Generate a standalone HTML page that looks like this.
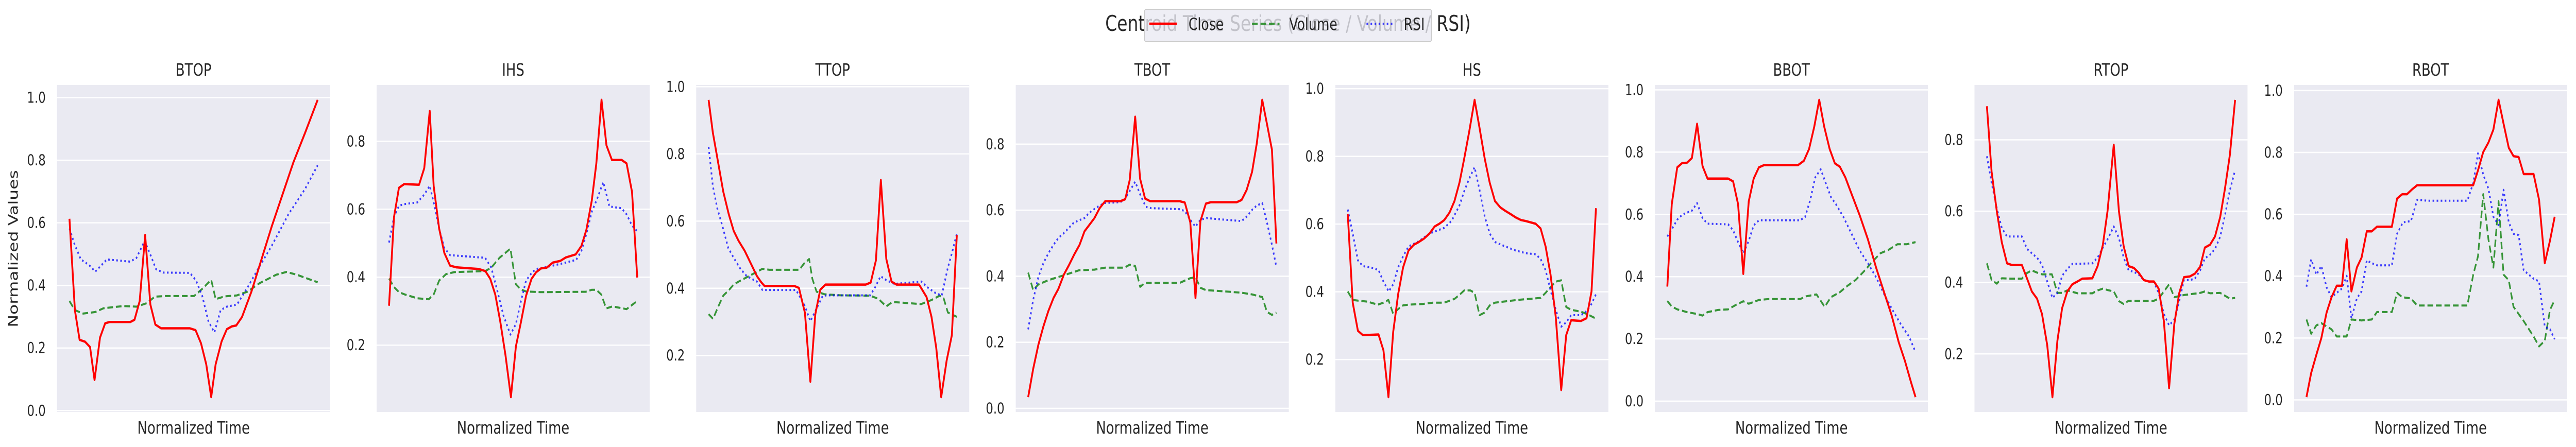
<!DOCTYPE html>
<html><head><meta charset="utf-8">
<style>
html,body{margin:0;padding:0;background:#fff;overflow:hidden;width:100%;height:100%;}
svg{display:block;width:100vw;height:100vh;font-family:"DejaVu Sans","Liberation Sans",sans-serif;}
</style></head>
<body>
<svg id="fig" viewBox="0 0 6368 868" preserveAspectRatio="none" xmlns="http://www.w3.org/2000/svg"></svg>
<script>
const panelTitles = ["BTOP","IHS","TTOP","TBOT","HS","BBOT","RTOP","RBOT"];
const btopClose = [[0,.613],[.022,.32],[.041,.226],[.063,.22],[.083,.203],[.101,.098],[.123,.233],[.144,.279],[.162,.283],[.245,.283],[.262,.29],[.283,.35],[.305,.561],[.326,.339],[.346,.275],[.369,.263],[.485,.263],[.508,.257],[.53,.215],[.551,.148],[.571,.043],[.589,.148],[.613,.221],[.634,.26],[.654,.269],[.672,.272],[.695,.299],[.733,.38],[.816,.591],[.902,.793],[.949,.887],[1,.993]];
const btopRsi = [[0,.582],[.022,.528],[.046,.483],[.079,.465],[.104,.444],[.129,.465],[.151,.483],[.204,.479],[.245,.476],[.27,.488],[.303,.542],[.328,.494],[.349,.452],[.377,.441],[.485,.44],[.51,.416],[.535,.366],[.56,.285],[.584,.25],[.609,.321],[.634,.332],[.675,.339],[.717,.393],[.766,.461],[.816,.528],[.882,.627],[.949,.708],[1,.784]];
const btopVolume = [[0,.35],[.022,.321],[.055,.31],[.104,.315],[.137,.327],[.171,.33],[.22,.334],[.27,.332],[.311,.343],[.344,.364],[.386,.366],[.502,.366],[.535,.389],[.571,.418],[.589,.356],[.626,.365],[.675,.368],[.717,.38],[.766,.407],[.833,.434],[.874,.443],[.916,.434],[.965,.42],[1,.41]];
const ihsClose = [[0,.316],[.02,.577],[.04,.663],[.061,.674],[.121,.672],[.142,.721],[.164,.889],[.18,.668],[.202,.543],[.223,.471],[.246,.434],[.271,.429],[.362,.424],[.388,.418],[.408,.395],[.428,.349],[.448,.27],[.469,.171],[.491,.047],[.511,.196],[.531,.266],[.552,.345],[.574,.395],[.593,.415],[.613,.426],[.635,.428],[.66,.443],[.69,.448],[.712,.458],[.752,.467],[.775,.492],[.795,.539],[.817,.626],[.835,.734],[.856,.922],[.876,.788],[.898,.745],[.937,.745],[.957,.735],[.979,.651],[1,.399]];
const ihsRsi = [[0,.502],[.02,.577],[.04,.61],[.061,.615],[.114,.62],[.142,.643],[.164,.669],[.183,.61],[.202,.543],[.223,.486],[.246,.465],[.296,.462],[.387,.457],[.412,.428],[.436,.361],[.461,.287],[.489,.231],[.511,.262],[.531,.328],[.552,.39],[.577,.415],[.593,.424],[.66,.434],[.712,.443],[.754,.451],[.775,.477],[.795,.527],[.817,.593],[.836,.626],[.863,.68],[.888,.608],[.937,.603],[.957,.585],[.979,.552],[1,.535]];
const ihsVolume = [[0,.396],[.02,.371],[.04,.356],[.064,.349],[.114,.338],[.16,.335],[.18,.349],[.202,.39],[.23,.409],[.263,.415],[.387,.418],[.412,.428],[.445,.457],[.489,.484],[.511,.379],[.531,.364],[.552,.358],[.61,.356],[.792,.357],[.817,.363],[.835,.363],[.855,.349],[.875,.308],[.9,.314],[.957,.306],[1,.33]];
const ttopClose = [[0,.961],[.017,.864],[.038,.776],[.059,.688],[.081,.621],[.101,.571],[.121,.541],[.145,.512],[.17,.474],[.195,.436],[.212,.418],[.225,.407],[.345,.407],[.364,.401],[.388,.327],[.41,.122],[.43,.323],[.45,.396],[.471,.411],[.633,.411],[.653,.417],[.674,.483],[.694,.722],[.716,.487],[.737,.42],[.757,.411],[.848,.411],[.878,.374],[.898,.315],[.917,.223],[.937,.076],[.959,.185],[.98,.26],[1,.558]];
const ttopRsi = [[0,.821],[.017,.705],[.035,.638],[.055,.587],[.079,.52],[.104,.487],[.129,.457],[.154,.436],[.195,.42],[.217,.395],[.352,.395],[.385,.353],[.41,.302],[.435,.34],[.46,.378],[.486,.379],[.651,.379],[.671,.403],[.693,.436],[.716,.424],[.749,.413],[.857,.42],[.881,.403],[.914,.386],[.939,.378],[.964,.462],[.98,.504],[1,.562]];
const ttopVolume = [[0,.323],[.018,.309],[.038,.344],[.059,.378],[.081,.394],[.101,.411],[.121,.42],[.162,.436],[.195,.449],[.217,.458],[.245,.455],[.365,.455],[.385,.474],[.405,.487],[.418,.428],[.435,.39],[.468,.382],[.534,.379],[.65,.378],[.683,.369],[.716,.346],[.74,.359],[.782,.357],[.856,.353],[.898,.365],[.931,.378],[.947,.37],[.964,.328],[1,.315]];
const tbotClose = [[0,.034],[.02,.119],[.041,.192],[.061,.247],[.081,.294],[.102,.334],[.122,.362],[.144,.405],[.164,.433],[.185,.465],[.207,.495],[.227,.536],[.247,.556],[.267,.576],[.288,.606],[.31,.627],[.371,.627],[.391,.633],[.409,.691],[.431,.883],[.451,.695],[.471,.635],[.492,.627],[.611,.627],[.631,.623],[.653,.563],[.674,.334],[.694,.567],[.716,.62],[.736,.624],[.84,.624],[.86,.631],[.88,.661],[.902,.716],[.921,.802],[.943,.934],[.962,.861],[.982,.783],[1,.499]];
const tbotRsi = [[0,.239],[.02,.328],[.041,.397],[.061,.439],[.081,.469],[.102,.495],[.122,.516],[.147,.533],[.185,.563],[.227,.576],[.247,.593],[.288,.614],[.31,.622],[.371,.624],[.391,.635],[.409,.658],[.431,.686],[.451,.648],[.474,.61],[.496,.606],[.611,.603],[.631,.597],[.653,.571],[.674,.55],[.694,.571],[.719,.576],[.793,.571],[.86,.567],[.88,.58],[.902,.601],[.921,.614],[.943,.621],[.962,.563],[.982,.495],[1,.428]];
const tbotVolume = [[0,.411],[.02,.358],[.041,.375],[.081,.388],[.144,.403],[.205,.418],[.267,.42],[.31,.426],[.388,.426],[.409,.435],[.431,.431],[.451,.368],[.471,.38],[.611,.38],[.653,.394],[.674,.397],[.694,.365],[.716,.358],[.793,.354],[.86,.35],[.902,.345],[.943,.337],[.962,.292],[.982,.283],[1,.29]];
const hsClose = [[0,.63],[.02,.368],[.041,.285],[.061,.272],[.124,.274],[.144,.227],[.164,.089],[.183,.281],[.203,.393],[.223,.472],[.245,.522],[.266,.539],[.286,.547],[.307,.557],[.329,.572],[.35,.593],[.369,.601],[.389,.612],[.41,.634],[.43,.668],[.45,.722],[.469,.793],[.489,.872],[.511,.967],[.531,.884],[.552,.793],[.572,.722],[.593,.668],[.615,.649],[.635,.639],[.655,.63],[.676,.62],[.698,.612],[.717,.609],[.757,.601],[.777,.587],[.797,.534],[.817,.451],[.838,.326],[.86,.11],[.88,.272],[.9,.316],[.94,.314],[.962,.322],[.982,.401],[1,.647]];
const hsRsi = [[0,.643],[.02,.572],[.041,.493],[.061,.476],[.104,.47],[.124,.464],[.144,.43],[.165,.401],[.183,.422],[.203,.472],[.223,.505],[.245,.534],[.286,.549],[.329,.572],[.389,.589],[.418,.609],[.45,.655],[.469,.697],[.489,.734],[.511,.768],[.531,.701],[.552,.622],[.572,.572],[.593,.547],[.635,.534],[.676,.522],[.717,.514],[.757,.511],[.777,.497],[.797,.464],[.817,.405],[.838,.347],[.86,.297],[.88,.31],[.9,.331],[.94,.331],[.962,.343],[.982,.364],[1,.393]];
const hsVolume = [[0,.401],[.02,.376],[.041,.374],[.079,.371],[.121,.362],[.144,.368],[.164,.376],[.183,.335],[.203,.349],[.223,.36],[.245,.362],[.302,.364],[.343,.368],[.389,.368],[.43,.379],[.45,.391],[.469,.404],[.494,.404],[.511,.397],[.531,.331],[.552,.339],[.572,.36],[.593,.368],[.684,.376],[.777,.382],[.797,.397],[.817,.414],[.838,.43],[.86,.434],[.88,.355],[.9,.347],[.94,.341],[.962,.335],[1,.321]];
const bbotClose = [[0,.368],[.018,.633],[.04,.751],[.06,.765],[.079,.766],[.099,.781],[.12,.891],[.142,.755],[.162,.715],[.245,.715],[.265,.706],[.285,.633],[.306,.409],[.328,.642],[.348,.715],[.369,.751],[.389,.758],[.526,.758],[.55,.772],[.571,.81],[.592,.882],[.612,.968],[.632,.882],[.654,.81],[.675,.764],[.695,.753],[.717,.719],[.745,.66],[.775,.597],[.808,.52],[.841,.429],[.874,.348],[.904,.275],[.932,.19],[.957,.13],[.982,.06],[1,.013]];
const bbotRsi = [[0,.529],[.018,.552],[.04,.583],[.06,.599],[.099,.612],[.12,.636],[.142,.588],[.162,.57],[.245,.568],[.265,.549],[.285,.511],[.306,.475],[.328,.515],[.348,.565],[.369,.581],[.535,.581],[.555,.592],[.576,.647],[.596,.719],[.618,.745],[.638,.701],[.659,.656],[.679,.633],[.709,.592],[.742,.538],[.775,.484],[.808,.443],[.841,.398],[.874,.343],[.907,.293],[.94,.248],[.974,.207],[1,.158]];
const bbotVolume = [[0,.322],[.018,.304],[.04,.295],[.079,.286],[.12,.28],[.142,.275],[.162,.286],[.204,.293],[.245,.295],[.278,.31],[.306,.321],[.328,.313],[.369,.325],[.41,.328],[.535,.328],[.56,.337],[.601,.343],[.634,.303],[.659,.334],[.695,.35],[.725,.37],[.758,.389],[.791,.416],[.825,.447],[.858,.475],[.891,.486],[.927,.504],[.965,.504],[1,.511]];
const rtopClose = [[0,.894],[.019,.711],[.04,.6],[.06,.513],[.081,.454],[.101,.449],[.141,.449],[.162,.411],[.181,.375],[.202,.355],[.222,.312],[.243,.225],[.264,.079],[.284,.237],[.303,.328],[.324,.375],[.344,.395],[.365,.403],[.384,.411],[.425,.412],[.446,.446],[.467,.505],[.486,.6],[.511,.786],[.532,.6],[.551,.502],[.571,.446],[.592,.441],[.611,.428],[.632,.407],[.652,.403],[.673,.403],[.692,.383],[.713,.292],[.734,.104],[.755,.284],[.775,.371],[.794,.415],[.817,.417],[.838,.425],[.859,.444],[.878,.498],[.899,.506],[.919,.529],[.94,.584],[.959,.663],[.979,.758],[1,.912]];
const rtopRsi = [[0,.754],[.019,.679],[.04,.608],[.06,.553],[.081,.529],[.141,.529],[.162,.494],[.181,.482],[.202,.47],[.222,.45],[.243,.403],[.264,.357],[.284,.371],[.303,.419],[.324,.438],[.344,.452],[.425,.454],[.446,.47],[.467,.498],[.486,.521],[.511,.557],[.532,.525],[.551,.47],[.571,.434],[.592,.43],[.611,.423],[.632,.407],[.652,.403],[.673,.401],[.692,.371],[.713,.312],[.734,.28],[.755,.296],[.775,.348],[.794,.407],[.817,.407],[.838,.411],[.859,.434],[.878,.468],[.899,.478],[.919,.494],[.94,.529],[.959,.588],[.979,.659],[1,.715]];
const rtopVolume = [[0,.454],[.019,.407],[.04,.397],[.06,.412],[.097,.411],[.141,.411],[.162,.427],[.181,.434],[.202,.428],[.222,.423],[.262,.423],[.284,.371],[.303,.371],[.324,.378],[.365,.37],[.425,.37],[.446,.378],[.467,.383],[.486,.379],[.511,.375],[.532,.348],[.551,.34],[.571,.349],[.632,.349],[.673,.349],[.692,.355],[.713,.375],[.734,.395],[.755,.359],[.794,.365],[.859,.371],[.878,.375],[.899,.37],[.94,.371],[.979,.355],[1,.357]];
const rbotClose = [[0,.009],[.019,.087],[.04,.146],[.06,.2],[.081,.282],[.101,.332],[.122,.369],[.143,.369],[.162,.519],[.181,.351],[.203,.428],[.222,.46],[.243,.545],[.263,.545],[.284,.56],[.344,.56],[.365,.651],[.386,.665],[.405,.665],[.426,.681],[.446,.694],[.648,.694],[.672,.694],[.691,.742],[.712,.801],[.733,.832],[.753,.874],[.774,.97],[.794,.893],[.815,.815],[.834,.788],[.855,.785],[.875,.73],[.915,.73],[.937,.647],[.96,.442],[.981,.515],[1,.592]];
const rbotRsi = [[0,.366],[.019,.454],[.04,.405],[.06,.433],[.081,.364],[.101,.332],[.122,.346],[.143,.36],[.162,.401],[.181,.264],[.203,.328],[.222,.351],[.243,.451],[.263,.442],[.284,.435],[.344,.435],[.365,.537],[.389,.574],[.421,.578],[.446,.647],[.486,.644],[.648,.644],[.672,.701],[.691,.797],[.712,.729],[.733,.683],[.753,.592],[.774,.565],[.794,.679],[.815,.574],[.834,.537],[.855,.533],[.875,.419],[.915,.392],[.937,.383],[.96,.237],[.981,.228],[1,.196]];
const rbotVolume = [[0,.26],[.019,.214],[.04,.241],[.06,.248],[.101,.228],[.122,.205],[.162,.205],[.181,.26],[.222,.257],[.263,.26],[.284,.284],[.344,.284],[.365,.346],[.386,.332],[.421,.328],[.446,.305],[.648,.305],[.672,.405],[.691,.464],[.712,.665],[.733,.519],[.753,.428],[.774,.642],[.794,.405],[.815,.387],[.834,.301],[.875,.255],[.915,.205],[.937,.173],[.96,.191],[.981,.291],[1,.323]];

const closeSeries = [btopClose, ihsClose, ttopClose, tbotClose, hsClose, bbotClose, rtopClose, rbotClose];
const volumeSeries = [btopVolume, ihsVolume, ttopVolume, tbotVolume, hsVolume, bbotVolume, rtopVolume, rbotVolume];
const rsiSeries = [btopRsi, ihsRsi, ttopRsi, tbotRsi, hsRsi, bbotRsi, rtopRsi, rbotRsi];

const NS = "http://www.w3.org/2000/svg";
const svg = document.getElementById("fig");
function mk(tag, attrs, parent) {
  const e = document.createElementNS(NS, tag);
  for (const k in attrs) e.setAttribute(k, attrs[k]);
  (parent || svg).appendChild(e);
  return e;
}
const AX_TOP = 165, AX_BOT = 800, AX_W = 675;

panelTitles.forEach((title, i) => {
  const left = 141 + 790 * i;
  const g = mk("g", {});
  
  
  const bg = mk("rect", {x: left, y: AX_TOP, width: AX_W, height: AX_BOT - AX_TOP, fill: "#eaeaf2"}, g);
  
  

  const all = closeSeries[i].concat(volumeSeries[i], rsiSeries[i]);
  let tmin = Infinity, tmax = -Infinity, vmin = Infinity, vmax = -Infinity;
  all.forEach(p => { tmin = Math.min(tmin, p[0]); tmax = Math.max(tmax, p[0]); vmin = Math.min(vmin, p[1]); vmax = Math.max(vmax, p[1]); });
  const tm = (tmax - tmin) * 0.05, vm = (vmax - vmin) * 0.05;
  const x0 = tmin - tm, x1 = tmax + tm, y0 = vmin - vm, y1 = vmax + vm;
  const xs = t => left + (t - x0) / (x1 - x0) * AX_W;
  const ys = v => AX_BOT - (v - y0) / (y1 - y0) * (AX_BOT - AX_TOP);

  for (let k = 0; k <= 5; k++) {
    const v = k * 0.2;
    if (v < y0 - 1e-9 || v > y1 + 1e-9) continue;
    const y = ys(v);
    const gl = mk("line", {x1: left, x2: left + AX_W, y1: y, y2: y, stroke: "#fff", "stroke-width": 2.5}, g);
    
    
    const tl = mk("text", {x: left - 28, y: y + 10, "text-anchor": "end", "font-size": 29, fill: "#262626"}, g);
    
    
    tl.textContent = v.toFixed(1);
  }
  const styles = [
    [volumeSeries[i], "#228b22", 4, "14,7", 0.9, "volume-line"],
    [rsiSeries[i], "#0000ff", 4, "4,6", 0.75, "rsi-line"],
    [closeSeries[i], "#ff0000", 4.5, "", 1, "close-line"]
  ];
  styles.forEach(s => {
    const d = s[0].map((p, j) => (j ? "L" : "M") + xs(p[0]).toFixed(1) + "," + ys(p[1]).toFixed(1)).join("");
    const path = mk("path", {d: d, fill: "none", stroke: s[1], "stroke-width": s[2], "stroke-opacity": s[4], "stroke-linejoin": "round"}, g);
    if (s[3]) path.setAttribute("stroke-dasharray", s[3]);
    
    
  });
  const tt = mk("text", {x: left + AX_W / 2, y: 147, "text-anchor": "middle", "font-size": 33, fill: "#262626"}, g);
  
  
  tt.textContent = title;
  const xl = mk("text", {x: left + AX_W / 2, y: 842, "text-anchor": "middle", "font-size": 33, fill: "#262626"}, g);
  
  
  xl.textContent = "Normalized Time";
});

const yl = mk("text", {x: 0, y: 0, "text-anchor": "middle", "font-size": 33, fill: "#262626", transform: "translate(44,483) rotate(-90)"});


yl.textContent = "Normalized Values";

const st = mk("text", {x: 3184, y: 60, "text-anchor": "middle", "font-size": 42, fill: "#262626"});


st.textContent = "Centroid Time Series (Close / Volume / RSI)";

const lg = mk("g", {});


const lb = mk("rect", {x: 2829, y: 18, width: 710, height: 63, rx: 5, fill: "#eaeaf2", "fill-opacity": 0.8, stroke: "#cccccc", "stroke-width": 2}, lg);


const legendLabels = ["Close", "Volume", "RSI"];
const legendLineX = [2841, 3095, 3378];
const legendTextX = [2938, 3187, 3470];
const legendStyle = [["#ff0000", 4.5, "", 1], ["#228b22", 4, "14,7", 0.9], ["#0000ff", 4, "4,6", 0.75]];
legendLabels.forEach((lab, j) => {
  const ln = mk("line", {x1: legendLineX[j], x2: legendLineX[j] + 68, y1: 46, y2: 46, stroke: legendStyle[j][0], "stroke-width": legendStyle[j][1], "stroke-opacity": legendStyle[j][3]}, lg);
  if (legendStyle[j][2]) ln.setAttribute("stroke-dasharray", legendStyle[j][2]);
  
  
  const tx = mk("text", {x: legendTextX[j], y: 58, "font-size": 32, fill: "#262626"}, lg);
  
  
  tx.textContent = lab;
});
</script>
</body></html>
